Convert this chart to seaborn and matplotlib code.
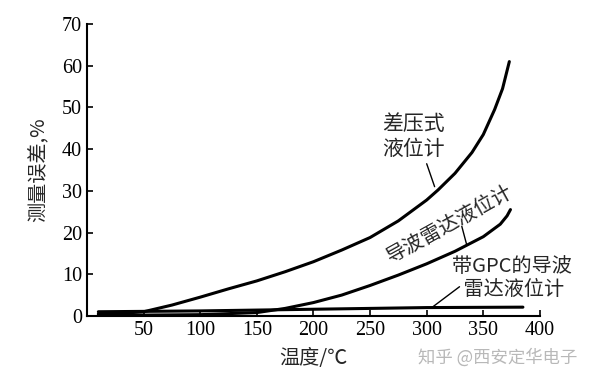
import pandas as pd
import numpy as np
import seaborn as sns
import matplotlib.pyplot as plt

# --- 读图得到的数据 ---
temp_dp = [10, 30, 50, 75, 100, 125, 150, 175, 200, 225, 250, 275, 300, 310, 325, 340, 350, 360, 367, 373]
err_dp = [0.5, 0.6, 1.0, 2.6, 4.5, 6.5, 8.4, 10.6, 13.0, 15.8, 18.8, 22.8, 27.8, 30.2, 34.2, 39.2, 43.5, 49.5, 54.5, 61.0]

temp_gwr = [10, 50, 100, 150, 175, 200, 225, 250, 275, 300, 325, 350, 365, 371, 374]
err_gwr = [0.2, 0.2, 0.3, 0.8, 1.8, 3.2, 5.0, 7.3, 9.8, 12.5, 15.5, 19.0, 22.0, 24.0, 25.5]

temp_gpc = [10, 100, 200, 300, 385]
err_gpc = [1.0, 1.2, 1.6, 2.0, 2.1]

series_names = ['差压式液位计', '导波雷达液位计', '带GPC的导波雷达液位计']
x_ticks = [50, 100, 150, 200, 250, 300, 350, 400]
y_ticks = [0, 10, 20, 30, 40, 50, 60, 70]

df = pd.concat([
    pd.DataFrame({'temp': temp_dp, 'err': err_dp, 'kind': series_names[0]}),
    pd.DataFrame({'temp': temp_gwr, 'err': err_gwr, 'kind': series_names[1]}),
    pd.DataFrame({'temp': temp_gpc, 'err': err_gpc, 'kind': series_names[2]}),
])

sns.set_style('ticks')
plt.rcParams['font.family'] = ['Liberation Serif', 'Noto Sans CJK SC']
cjk = ['Noto Sans CJK SC', 'DejaVu Sans']

fig = plt.figure(figsize=(5.92, 3.82), dpi=100)
ax = fig.add_axes([0.147, 0.173, 0.765, 0.764])

sns.lineplot(data=df, x='temp', y='err', units='kind', estimator=None,
             color='black', linewidth=2.2, sort=False, legend=False, ax=ax)

ax.set_xlim(0, 400)
ax.set_ylim(0, 70)
ax.set_xticks(x_ticks)
ax.set_yticks(y_ticks)
ax.tick_params(direction='in', length=4, width=1.2, labelsize=14.5, colors='black')
for s in ['left', 'bottom']:
    ax.spines[s].set_linewidth(1.5)
    ax.spines[s].set_color('black')
sns.despine(ax=ax)

ax.set_xlabel('温度/℃', family=cjk, fontsize=14.5, labelpad=6)
ax.set_ylabel('测量误差,%', family=cjk, fontsize=14.5, labelpad=9)

# 曲线标注
ax.text(261, 43, '差压式\n液位计', family=cjk, fontsize=15, linespacing=1.15,
        ha='left', va='center')
ax.plot([300, 307], [36.5, 31], color='black', linewidth=1)

ax.text(320, 22, '导波雷达液位计', family=cjk, fontsize=14.5,
        rotation=29, ha='center', va='center', rotation_mode='anchor')
ax.plot([331, 335.5], [21.5, 16.9], color='black', linewidth=1)

ax.text(375, 9.1, '带GPC的导波\n 雷达液位计', family=cjk, fontsize=14.5,
        linespacing=1.15, ha='center', va='center')
ax.plot([329, 305.5], [7.0, 2.2], color='black', linewidth=1)

fig.text(0.84, 0.063, '知乎 @西安定华电子', family=cjk, fontsize=12.5,
         color='#b8b8b8', ha='center', va='center')

fig.savefig('out.png', dpi=100)
